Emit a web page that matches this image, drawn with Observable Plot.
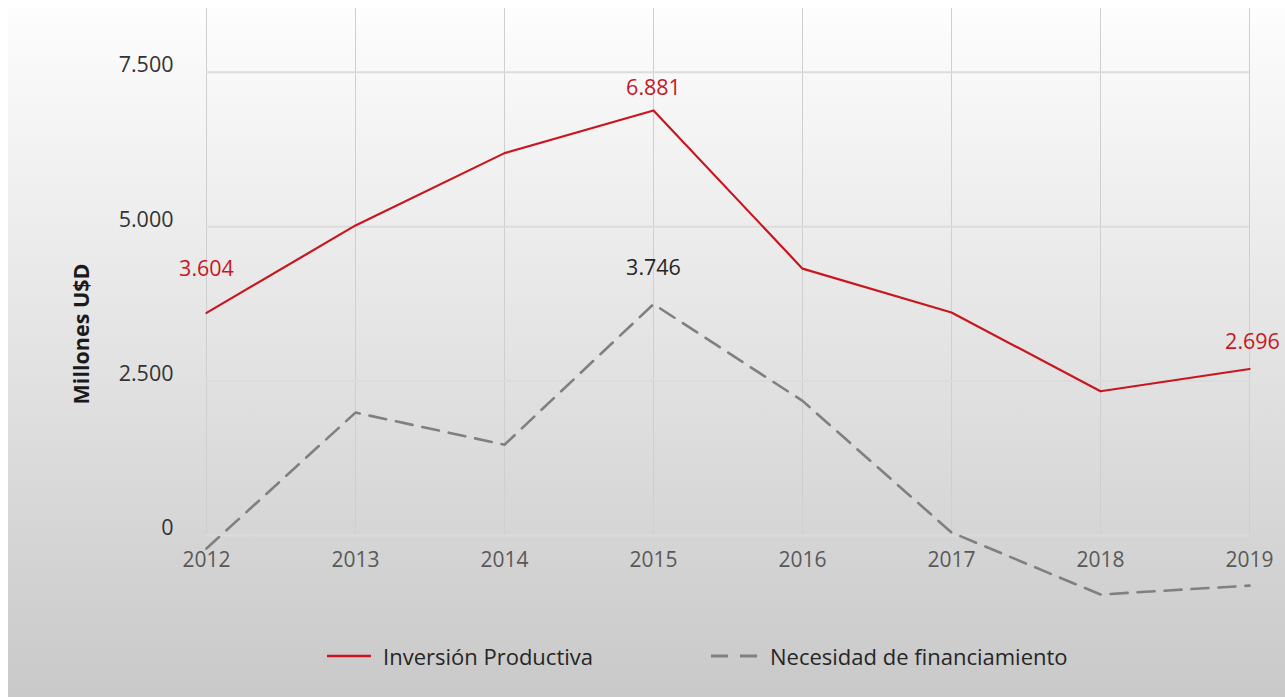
<!DOCTYPE html>
<html>
<head>
<meta charset="utf-8">
<script src="https://cdn.jsdelivr.net/npm/d3@7"></script>
<script src="https://cdn.jsdelivr.net/npm/@observablehq/plot@0.6"></script>
<style>
  html, body { margin: 0; padding: 0; overflow: hidden; background: #fff; }
  #wrap {
    position: absolute; left: 8px; top: 8px; width: 1277px; height: 689px;
    background: linear-gradient(to bottom, #fdfdfd 0%, #c9c9c9 100%);
    font-family: "Open Sans", sans-serif;
  }
  #chart svg { display: block; background: transparent; }
  #ytitle {
    position: absolute; left: 72px; top: 326px; transform: translate(-50%, -50%) rotate(-90deg);
    font-size: 21.5px; font-weight: bold; color: #1a1a1a; white-space: nowrap;
  }
  #legend {
    position: absolute; top: 633px; left: 319px; display: flex; align-items: center;
    font-size: 22px; color: #262626; white-space: nowrap;
  }
  #legend .item { display: flex; align-items: center; }
  #legend svg { margin-right: 12px; }
</style>
</head>
<body>
<div id="wrap">
  <div id="chart"></div>
  <div id="ytitle"></div>
  <div id="legend"></div>
</div>
<script>
const years = [2012, 2013, 2014, 2015, 2016, 2017, 2018, 2019];
const inversion = [3604, 5020, 6190, 6881, 4320, 3610, 2335, 2696];
const necesidad = [-210, 1990, 1470, 3746, 2180, 50, -955, -810];
const yTicks = [0, 2500, 5000, 7500];
const seriesNames = ["Inversión Productiva", "Necesidad de financiamiento"];
const yTitle = "Millones U$D";

const red = "#c9161e";
const grey = "#808080";

const locale = d3.formatLocale({decimal: ",", thousands: ".", grouping: [3], currency: ["$", ""]});
const fmt = locale.format(",d");

const dataInv = years.map((y, i) => ({year: y, value: inversion[i]}));
const dataNec = years.map((y, i) => ({year: y, value: necesidad[i]}));

const first = years[0], last = years[years.length - 1];
const iMax = inversion.indexOf(d3.max(inversion));
const iNecMax = necesidad.indexOf(d3.max(necesidad));

const plot = Plot.plot({
  width: 1277,
  height: 610,
  marginLeft: 198,
  marginRight: 36,
  marginTop: 5,
  marginBottom: 15,
  style: {fontFamily: "Open Sans, sans-serif", fontSize: "21px", background: "transparent"},
  x: {domain: [first, last], axis: null},
  y: {domain: [-1100, 8450], axis: null},
  marks: [
    Plot.ruleX(years, {x: d => d, y1: 0, y2: 8450, insetBottom: 10, stroke: "#cfcfcf", strokeWidth: 1}),
    Plot.ruleY(yTicks, {y: d => d, x1: first, x2: last, stroke: "#dcdcdc", strokeWidth: 2}),
    Plot.text(yTicks, {x: first, y: d => d, text: d => fmt(d), textAnchor: "end", dx: -33, dy: -7, fill: "#333", fontSize: 21.5}),
    Plot.text(years, {x: d => d, y: 0, text: d => String(d), dy: 25, fill: "#595959", fontSize: 21}),
    Plot.line(dataNec, {x: "year", y: "value", stroke: grey, strokeWidth: 2.6, strokeDasharray: "17,10"}),
    Plot.line(dataInv, {x: "year", y: "value", stroke: red, strokeWidth: 2.2}),
    Plot.text([dataInv[0]], {x: "year", y: "value", text: d => fmt(d.value), dy: -44, fill: red, fontSize: 21.5}),
    Plot.text([dataInv[iMax]], {x: "year", y: "value", text: d => fmt(d.value), dy: -22, fill: red, fontSize: 21.5}),
    Plot.text([dataInv[dataInv.length - 1]], {x: "year", y: "value", text: d => fmt(d.value), dy: -27, dx: 3, fill: red, fontSize: 21.5}),
    Plot.text([dataNec[iNecMax]], {x: "year", y: "value", text: d => fmt(d.value), dy: -36, fill: "#262626", fontSize: 21.5})
  ]
});
document.getElementById("chart").appendChild(plot);
document.getElementById("ytitle").textContent = yTitle;

const legend = document.getElementById("legend");
const swatches = [
  `<svg width="44" height="10"><line x1="0" y1="5" x2="44" y2="5" stroke="${red}" stroke-width="2.5"/></svg>`,
  `<svg width="47" height="10"><line x1="0" y1="5" x2="47" y2="5" stroke="${grey}" stroke-width="3" stroke-dasharray="17,12"/></svg>`
];
seriesNames.forEach((name, i) => {
  const item = document.createElement("div");
  item.className = "item";
  if (i > 0) item.style.marginLeft = "118px";
  item.innerHTML = swatches[i] + `<span>${name}</span>`;
  legend.appendChild(item);
});
</script>
</body>
</html>
